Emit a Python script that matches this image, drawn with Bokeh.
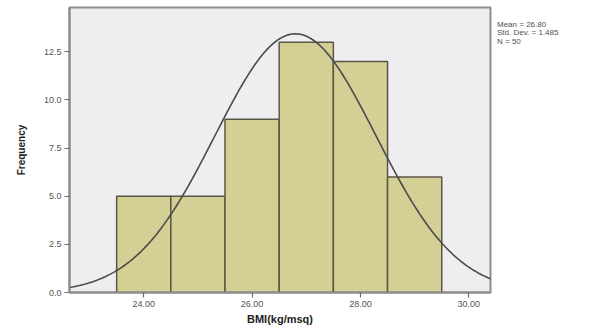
import numpy as np
from bokeh.plotting import figure
from bokeh.models import FixedTicker, PrintfTickFormatter, Range1d, Div
from bokeh.layouts import row
from bokeh.embed import file_html
from bokeh.resources import INLINE

bin_left = [23.5, 24.5, 25.5, 26.5, 27.5, 28.5]
bin_right = [24.5, 25.5, 26.5, 27.5, 28.5, 29.5]
counts = [5, 5, 9, 13, 12, 6]
mean = 26.80
std_dev = 1.485
n_obs = 50
x_ticks = [24, 26, 28, 30]
y_ticks = [0, 2.5, 5, 7.5, 10, 12.5]
stats_lines = ["Mean = 26.80", "Std. Dev. = 1.485", "N = 50"]

FONT = "Liberation Sans"
X0, X1 = 22.63, 30.40

p = figure(width=492, height=327, output_backend="svg", toolbar_location=None,
           x_range=Range1d(X0, X1), y_range=Range1d(0, 14.8),
           min_border_left=69, min_border_right=2, min_border_top=7, min_border_bottom=33)
p.background_fill_color = "#eeeef0"
p.border_fill_color = "white"
p.outline_line_color = "#8c8c8c"
p.outline_line_width = 2
p.grid.visible = False

p.quad(left=bin_left, right=bin_right, bottom=0, top=counts,
       fill_color="#d4cf95", line_color="#5a5646", line_width=1.5)

bw = bin_right[0] - bin_left[0]
xs = np.linspace(X0, X1, 300)
ys = n_obs * bw * np.exp(-0.5 * ((xs - mean) / std_dev) ** 2) / (std_dev * np.sqrt(2 * np.pi))
p.line(xs, ys, line_color="#4a4a4a", line_width=1.6)

for ax in (p.xaxis[0], p.yaxis[0]):
    ax.axis_line_color = "#8c8c8c"
    ax.axis_line_width = 2
    ax.major_tick_line_color = "#707070"
    ax.major_tick_line_width = 1.2
    ax.minor_tick_line_color = None
    ax.major_tick_in = 0
    ax.major_tick_out = 5
    ax.major_label_text_font = FONT
    ax.major_label_text_font_size = "9px"
    ax.major_label_text_color = "#555555"
    ax.major_label_standoff = 3
    ax.axis_label_text_font = FONT
    ax.axis_label_text_font_style = "bold"
    ax.axis_label_text_color = "#222222"

p.xaxis.ticker = FixedTicker(ticks=x_ticks)
p.xaxis.formatter = PrintfTickFormatter(format="%.2f")
p.yaxis.ticker = FixedTicker(ticks=y_ticks)
p.yaxis.formatter = PrintfTickFormatter(format="%.1f")

p.yaxis.axis_label = "Frequency"
p.yaxis.axis_label_text_font_size = "10px"
p.yaxis.axis_label_standoff = 14

p.xaxis.axis_label = "BMI(kg/msq)"
p.xaxis.axis_label_text_font_size = "11px"
p.xaxis.axis_label_standoff = 3

stats = Div(text="<br>".join(stats_lines), width=100, height=60, margin=0,
            styles={"font-family": FONT, "font-size": "8px", "line-height": "8.3px",
                    "color": "#505050", "padding-left": "5px", "padding-top": "21px",
                    "white-space": "nowrap"})

layout = row(p, stats)
open("out.html", "w").write(file_html(layout, INLINE))
